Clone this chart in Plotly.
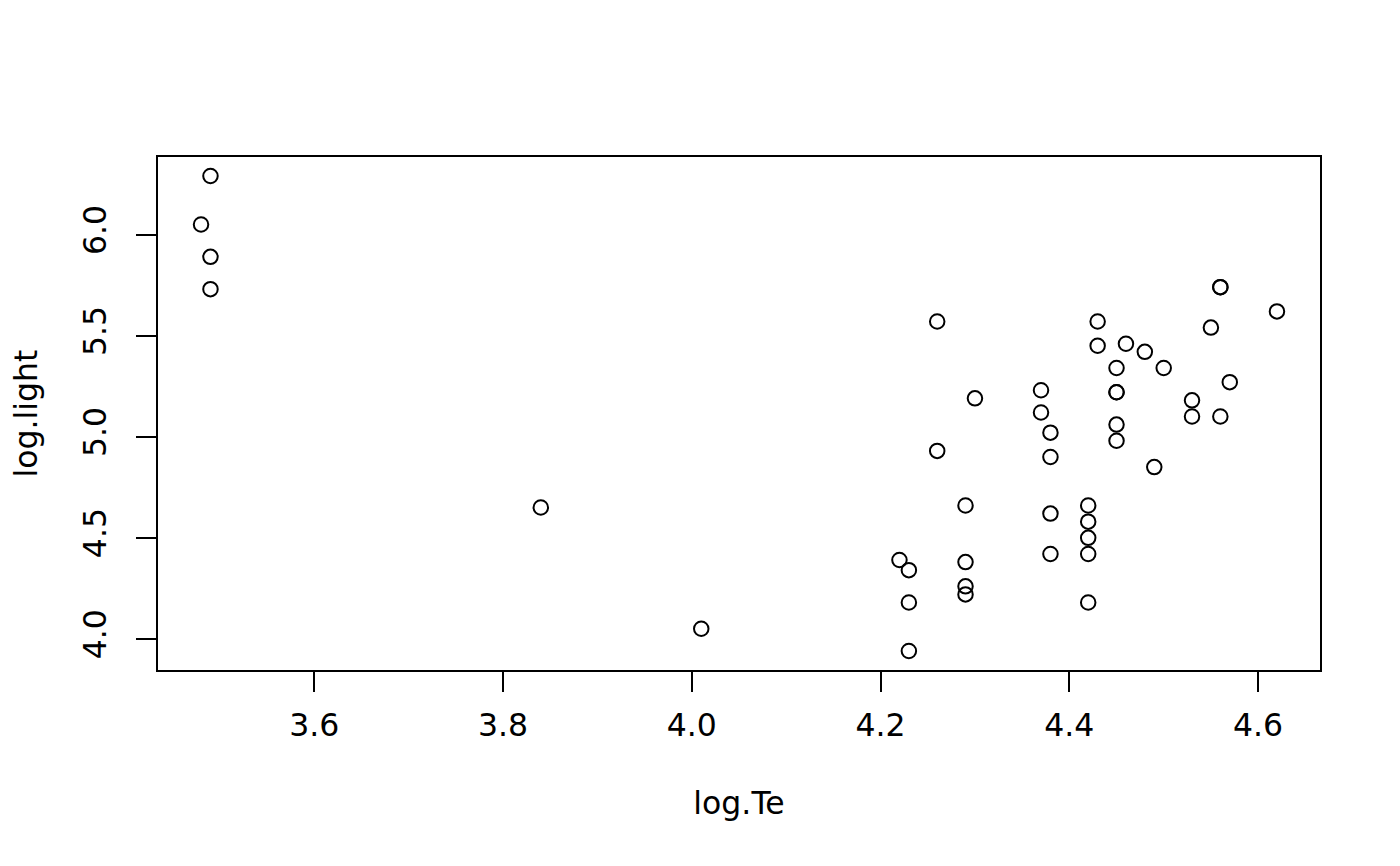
import plotly.graph_objects as go

log_Te = [4.37, 4.56, 4.26, 4.56, 4.30, 4.46, 3.84, 4.57, 4.26, 4.37,
          3.49, 4.43, 4.48, 4.01, 4.29, 4.42, 4.23, 4.42, 4.23, 3.49,
          4.29, 4.29, 4.42, 4.49, 4.38, 4.42, 4.29, 4.38, 4.22, 3.48,
          4.38, 4.56, 4.45, 3.49, 4.23, 4.62, 4.53, 4.45, 4.53, 4.43,
          4.38, 4.45, 4.50, 4.45, 4.55, 4.45, 4.42]
log_light = [5.23, 5.74, 4.93, 5.74, 5.19, 5.46, 4.65, 5.27, 5.57, 5.12,
             5.73, 5.45, 5.42, 4.05, 4.26, 4.58, 3.94, 4.18, 4.18, 5.89,
             4.38, 4.22, 4.42, 4.85, 5.02, 4.66, 4.66, 4.90, 4.39, 6.05,
             4.42, 5.10, 5.22, 6.29, 4.34, 5.62, 5.10, 5.22, 5.18, 5.57,
             4.62, 5.06, 5.34, 5.34, 5.54, 4.98, 4.50]
x_ticks = [3.6, 3.8, 4.0, 4.2, 4.4, 4.6]
x_tick_labels = ["3.6", "3.8", "4.0", "4.2", "4.4", "4.6"]
y_ticks = [4.0, 4.5, 5.0, 5.5, 6.0]
y_tick_labels = ["4.0", "4.5", "5.0", "5.5", "6.0"]

xr = max(log_Te) - min(log_Te)
yr = max(log_light) - min(log_light)
x_range = [min(log_Te) - 0.04 * xr, max(log_Te) + 0.04 * xr]
y_range = [min(log_light) - 0.04 * yr, max(log_light) + 0.04 * yr]

font = dict(family="DejaVu Sans", size=31.5, color="black")

fig = go.Figure()
fig.add_trace(go.Scatter(
    x=log_Te, y=log_light, mode="markers",
    marker=dict(symbol="circle-open", size=14.5, color="black",
                line=dict(width=2, color="black")),
    showlegend=False,
))

axis_common = dict(
    showgrid=False, zeroline=False, showline=True, linecolor="black",
    linewidth=1.6, mirror=True, ticks="outside", ticklen=20, tickwidth=1.6,
    tickcolor="black", tickfont=font,
)
fig.update_xaxes(range=x_range, tickvals=x_ticks, ticktext=x_tick_labels,
                 title=dict(text="log.Te", font=font, standoff=50),
                 ticklabelstandoff=6, **axis_common)
fig.update_yaxes(range=y_range, tickvals=y_ticks, ticktext=y_tick_labels,
                 tickangle=-90,
                 title=dict(text="log.light", font=font, standoff=42),
                 ticklabelstandoff=18, **axis_common)
fig.update_layout(
    width=1392, height=858,
    margin=dict(l=150, r=80, t=149, b=196, autoexpand=False),
    plot_bgcolor="white", paper_bgcolor="white", font=font,
)
fig.write_html("out.html")
